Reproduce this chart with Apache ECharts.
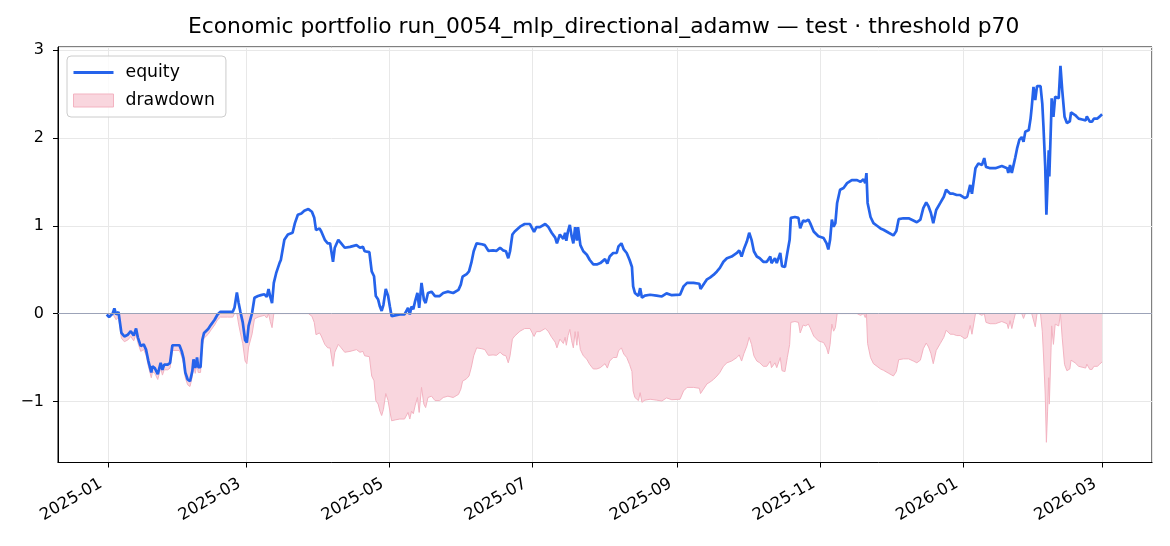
<!DOCTYPE html>
<html>
<head>
<meta charset="utf-8">
<script src="https://cdn.jsdelivr.net/npm/echarts@6/dist/echarts.min.js"></script>
<style>html,body{margin:0;padding:0;background:#fff}#c{width:1170px;height:546px}</style>
</head>
<body>
<div id="c"></div>
<script>
const chartTitle = 'Economic portfolio run_0054_mlp_directional_adamw \u2014 test \u00b7 threshold p70';
const seriesNames = ['equity', 'drawdown'];
const xRange = ['2024-12-10 17:00', '2026-03-22 07:00'];
const yRange = [-1.695, 3.035];

const dates = [
'2024-12-31 12:00','2025-01-01 12:00','2025-01-03 00:00','2025-01-03 18:00','2025-01-04 12:00','2025-01-05 12:00','2025-01-06 06:00','2025-01-06 18:00','2025-01-08 00:00','2025-01-09 12:00',
'2025-01-10 18:00','2025-01-12 00:00','2025-01-13 00:00','2025-01-13 18:00','2025-01-14 12:00','2025-01-15 00:00','2025-01-16 06:00','2025-01-17 06:00','2025-01-18 06:00','2025-01-19 12:00',
'2025-01-20 00:00','2025-01-21 00:00','2025-01-22 06:00','2025-01-23 12:00','2025-01-24 06:00','2025-01-25 00:00','2025-01-26 12:00','2025-01-27 12:00','2025-01-28 12:00','2025-01-31 12:00',
'2025-02-01 12:00','2025-02-02 06:00','2025-02-03 00:00','2025-02-04 00:00','2025-02-05 00:00','2025-02-06 00:00','2025-02-06 12:00','2025-02-07 06:00','2025-02-08 00:00','2025-02-08 12:00',
'2025-02-09 12:00','2025-02-10 06:00','2025-02-11 00:00','2025-02-12 18:00','2025-02-14 00:00','2025-02-15 12:00','2025-02-16 18:00','2025-02-18 00:00','2025-02-21 00:00','2025-02-23 06:00',
'2025-02-24 00:00','2025-02-24 12:00','2025-02-25 00:00','2025-02-25 18:00','2025-02-26 12:00','2025-02-27 12:00','2025-02-28 12:00','2025-03-01 06:00','2025-03-02 00:00','2025-03-02 18:00',
'2025-03-03 12:00','2025-03-04 12:00','2025-03-06 00:00','2025-03-07 06:00','2025-03-08 18:00','2025-03-09 18:00','2025-03-10 12:00','2025-03-11 06:00','2025-03-12 00:00','2025-03-12 18:00',
'2025-03-13 18:00','2025-03-14 12:00','2025-03-15 06:00','2025-03-15 18:00','2025-03-17 06:00','2025-03-18 18:00','2025-03-20 18:00','2025-03-21 18:00','2025-03-23 00:00','2025-03-24 12:00',
'2025-03-25 18:00','2025-03-27 12:00','2025-03-29 00:00','2025-03-30 00:00','2025-03-30 18:00','2025-04-01 06:00','2025-04-02 00:00','2025-04-03 12:00','2025-04-04 18:00','2025-04-05 18:00',
'2025-04-06 06:00','2025-04-07 00:00','2025-04-07 18:00','2025-04-09 06:00','2025-04-10 12:00','2025-04-12 00:00','2025-04-14 06:00','2025-04-17 00:00','2025-04-18 12:00','2025-04-19 18:00',
'2025-04-20 12:00','2025-04-22 12:00','2025-04-23 12:00','2025-04-24 12:00','2025-04-25 06:00','2025-04-26 06:00','2025-04-27 00:00','2025-04-27 18:00','2025-04-28 12:00','2025-04-29 12:00',
'2025-04-30 12:00','2025-05-01 06:00','2025-05-02 00:00','2025-05-03 12:00','2025-05-05 12:00','2025-05-07 12:00','2025-05-09 00:00','2025-05-09 18:00','2025-05-10 12:00','2025-05-11 06:00',
'2025-05-12 00:00','2025-05-13 00:00','2025-05-13 18:00','2025-05-14 18:00','2025-05-15 18:00','2025-05-16 12:00','2025-05-17 12:00','2025-05-19 00:00','2025-05-20 12:00','2025-05-22 12:00',
'2025-05-24 00:00','2025-05-26 00:00','2025-05-28 06:00','2025-05-30 12:00','2025-05-31 12:00','2025-06-01 06:00','2025-06-03 00:00','2025-06-04 00:00','2025-06-05 00:00','2025-06-06 00:00',
'2025-06-07 06:00','2025-06-09 12:00','2025-06-10 18:00','2025-06-12 06:00','2025-06-14 06:00','2025-06-15 18:00','2025-06-17 06:00','2025-06-18 12:00','2025-06-19 18:00','2025-06-20 18:00',
'2025-06-21 12:00','2025-06-22 12:00','2025-06-23 12:00','2025-06-25 18:00','2025-06-27 18:00','2025-06-30 00:00','2025-07-01 18:00','2025-07-02 18:00','2025-07-04 06:00','2025-07-06 12:00',
'2025-07-07 18:00','2025-07-09 06:00','2025-07-10 18:00','2025-07-11 12:00','2025-07-12 18:00','2025-07-14 06:00','2025-07-15 00:00','2025-07-15 12:00','2025-07-16 06:00','2025-07-17 00:00',
'2025-07-17 18:00','2025-07-18 12:00','2025-07-19 06:00','2025-07-20 00:00','2025-07-20 12:00','2025-07-21 12:00','2025-07-22 18:00','2025-07-24 06:00','2025-07-25 12:00','2025-07-27 00:00',
'2025-07-28 12:00','2025-07-30 00:00','2025-08-01 00:00','2025-08-02 00:00','2025-08-03 00:00','2025-08-04 12:00','2025-08-06 00:00','2025-08-06 18:00','2025-08-08 00:00','2025-08-09 00:00',
'2025-08-10 06:00','2025-08-11 12:00','2025-08-12 12:00','2025-08-13 00:00','2025-08-13 18:00','2025-08-15 06:00','2025-08-16 00:00','2025-08-16 18:00','2025-08-18 00:00','2025-08-20 06:00',
'2025-08-23 00:00','2025-08-25 06:00','2025-08-27 06:00','2025-08-29 12:00','2025-09-02 00:00','2025-09-03 12:00','2025-09-05 00:00','2025-09-07 18:00','2025-09-10 06:00','2025-09-10 18:00',
'2025-09-12 00:00','2025-09-13 12:00','2025-09-14 18:00','2025-09-16 06:00','2025-09-17 18:00','2025-09-19 00:00','2025-09-20 12:00','2025-09-22 00:00','2025-09-24 00:00','2025-09-26 06:00',
'2025-09-27 06:00','2025-09-28 06:00','2025-09-29 06:00','2025-09-30 12:00','2025-10-01 12:00','2025-10-02 12:00','2025-10-03 12:00','2025-10-04 18:00','2025-10-06 00:00','2025-10-07 12:00',
'2025-10-09 00:00','2025-10-10 12:00','2025-10-11 00:00','2025-10-12 12:00','2025-10-13 06:00','2025-10-14 18:00','2025-10-15 12:00','2025-10-16 18:00','2025-10-17 18:00','2025-10-18 18:00',
'2025-10-19 06:00','2025-10-21 00:00','2025-10-22 12:00','2025-10-23 06:00','2025-10-24 12:00','2025-10-25 12:00','2025-10-26 18:00','2025-10-27 12:00','2025-10-29 00:00','2025-10-31 00:00',
'2025-11-02 06:00','2025-11-03 12:00','2025-11-04 06:00','2025-11-05 00:00','2025-11-05 18:00','2025-11-06 12:00','2025-11-07 06:00','2025-11-08 00:00','2025-11-09 06:00','2025-11-10 18:00',
'2025-11-12 06:00','2025-11-14 06:00','2025-11-16 12:00','2025-11-18 00:00','2025-11-19 06:00','2025-11-20 00:00','2025-11-20 12:00','2025-11-21 00:00','2025-11-22 06:00','2025-11-23 12:00',
'2025-11-25 00:00','2025-11-26 12:00','2025-11-27 18:00','2025-11-30 00:00','2025-12-02 00:00','2025-12-03 06:00','2025-12-04 06:00','2025-12-06 06:00','2025-12-08 12:00','2025-12-10 12:00',
'2025-12-12 00:00','2025-12-13 12:00','2025-12-14 18:00','2025-12-16 00:00','2025-12-17 00:00','2025-12-18 00:00','2025-12-19 00:00','2025-12-20 06:00','2025-12-22 00:00','2025-12-23 12:00',
'2025-12-24 12:00','2025-12-26 06:00','2025-12-27 12:00','2025-12-29 00:00','2025-12-30 12:00','2026-01-01 12:00','2026-01-02 12:00','2026-01-03 18:00','2026-01-04 12:00','2026-01-06 00:00',
'2026-01-07 06:00','2026-01-08 18:00','2026-01-09 18:00','2026-01-10 12:00','2026-01-12 06:00','2026-01-14 12:00','2026-01-17 06:00','2026-01-19 12:00','2026-01-20 00:00','2026-01-20 18:00',
'2026-01-21 12:00','2026-01-22 06:00','2026-01-23 00:00','2026-01-23 18:00','2026-01-24 18:00','2026-01-25 18:00','2026-01-26 12:00','2026-01-27 06:00','2026-01-28 18:00','2026-01-29 12:00',
'2026-01-30 00:00','2026-01-30 18:00','2026-01-31 12:00','2026-02-01 06:00','2026-02-02 18:00','2026-02-03 12:00','2026-02-04 00:00','2026-02-04 18:00','2026-02-05 06:00','2026-02-05 18:00',
'2026-02-06 06:00','2026-02-06 12:00','2026-02-07 06:00','2026-02-07 12:00','2026-02-08 06:00','2026-02-09 00:00','2026-02-10 12:00','2026-02-11 06:00','2026-02-12 00:00','2026-02-13 00:00',
'2026-02-14 00:00','2026-02-15 06:00','2026-02-15 18:00','2026-02-17 12:00','2026-02-19 00:00','2026-02-20 12:00','2026-02-22 00:00','2026-02-22 12:00','2026-02-23 18:00','2026-02-24 18:00',
'2026-02-25 12:00','2026-02-27 00:00','2026-02-28 00:00','2026-03-01 00:00'
];

const equity = [
-0.01,-0.04,0.00,0.06,-0.01,0.02,0.02,-0.22,-0.26,-0.24,
-0.20,-0.25,-0.17,-0.27,-0.25,-0.37,-0.35,-0.41,-0.54,-0.67,
-0.60,-0.62,-0.69,-0.56,-0.64,-0.58,-0.58,-0.56,-0.36,-0.36,
-0.43,-0.51,-0.67,-0.75,-0.77,-0.655,-0.52,-0.62,-0.50,-0.61,
-0.61,-0.30,-0.22,-0.175,-0.125,-0.07,-0.01,0.02,0.02,0.02,
0.07,0.08,0.24,0.12,0.02,-0.10,-0.30,-0.33,-0.14,-0.13,
0.01,0.18,0.20,0.21,0.22,0.19,0.28,0.19,0.12,0.35,
0.46,0.48,0.58,0.61,0.84,0.90,0.92,1.03,1.125,1.14,
1.17,1.19,1.16,1.09,0.95,0.97,0.935,0.84,0.80,0.80,
0.82,0.59,0.75,0.84,0.80,0.75,0.76,0.78,0.75,0.76,
0.71,0.70,0.48,0.425,0.20,0.16,0.08,0.03,0.10,0.28,
0.20,0.08,-0.03,-0.02,-0.01,-0.01,0.065,-0.01,0.08,0.05,
0.14,0.235,0.065,0.35,0.16,0.12,0.235,0.25,0.20,0.20,
0.235,0.25,0.235,0.27,0.33,0.42,0.45,0.48,0.58,0.71,
0.80,0.79,0.78,0.715,0.72,0.715,0.75,0.72,0.71,0.63,
0.71,0.90,0.935,0.99,1.02,1.02,0.93,0.985,0.985,1.02,
0.99,0.92,0.865,0.80,0.90,0.85,0.92,0.83,0.94,1.01,
0.885,0.80,0.985,0.83,0.985,0.78,0.71,0.67,0.61,0.56,
0.56,0.575,0.62,0.57,0.65,0.69,0.69,0.765,0.80,0.73,
0.69,0.61,0.53,0.31,0.235,0.20,0.29,0.18,0.205,0.215,
0.205,0.195,0.23,0.21,0.215,0.31,0.35,0.35,0.34,0.28,
0.33,0.39,0.41,0.44,0.48,0.52,0.59,0.63,0.65,0.69,
0.72,0.65,0.735,0.82,0.92,0.84,0.71,0.65,0.63,0.59,
0.59,0.65,0.575,0.63,0.575,0.69,0.54,0.53,0.69,0.84,
1.09,1.10,1.09,0.97,1.06,1.05,1.07,1.03,0.935,0.88,
0.86,0.80,0.73,0.84,1.07,0.99,1.03,1.26,1.41,1.43,
1.485,1.52,1.52,1.50,1.53,1.485,1.60,1.26,1.10,1.03,
1.00,0.97,0.955,0.92,0.89,0.94,1.075,1.085,1.085,1.06,
1.04,1.07,1.20,1.265,1.22,1.145,1.03,1.18,1.26,1.33,
1.41,1.365,1.365,1.35,1.35,1.315,1.33,1.465,1.365,1.655,
1.71,1.69,1.77,1.67,1.655,1.655,1.68,1.655,1.60,1.69,
1.60,1.69,1.78,1.88,1.98,2.01,1.955,2.07,2.09,2.22,
2.35,2.58,2.43,2.59,2.59,2.39,2.13,1.675,1.125,1.48,
1.86,1.56,2.20,2.45,2.24,2.47,2.45,2.82,2.545,2.24,
2.17,2.19,2.29,2.26,2.22,2.21,2.20,2.245,2.185,2.185,
2.22,2.22,2.245,2.27
];

const drawdown = [
0,-0.03,0,0,-0.07,-0.04,-0.04,-0.28,-0.32,-0.30,
-0.26,-0.31,-0.23,-0.33,-0.31,-0.43,-0.41,-0.47,-0.60,-0.73,
-0.66,-0.68,-0.75,-0.62,-0.70,-0.64,-0.64,-0.62,-0.42,-0.42,
-0.49,-0.57,-0.73,-0.81,-0.83,-0.715,-0.58,-0.68,-0.56,-0.67,
-0.67,-0.36,-0.28,-0.235,-0.185,-0.13,-0.07,-0.04,-0.04,-0.04,
0,0,0,-0.12,-0.22,-0.34,-0.54,-0.57,-0.38,-0.37,
-0.23,-0.06,-0.04,-0.03,-0.02,-0.05,0,-0.09,-0.16,0,
0,0,0,0,0,0,0,0,0,0,
0,0,-0.03,-0.10,-0.24,-0.22,-0.255,-0.35,-0.39,-0.39,
-0.37,-0.60,-0.44,-0.35,-0.39,-0.44,-0.43,-0.41,-0.44,-0.43,
-0.48,-0.49,-0.71,-0.765,-0.99,-1.03,-1.11,-1.16,-1.09,-0.91,
-0.99,-1.11,-1.22,-1.21,-1.20,-1.20,-1.125,-1.20,-1.11,-1.14,
-1.05,-0.955,-1.125,-0.84,-1.03,-1.07,-0.955,-0.94,-0.99,-0.99,
-0.955,-0.94,-0.955,-0.92,-0.86,-0.77,-0.74,-0.71,-0.61,-0.48,
-0.39,-0.40,-0.41,-0.475,-0.47,-0.475,-0.44,-0.47,-0.48,-0.56,
-0.48,-0.29,-0.255,-0.20,-0.17,-0.17,-0.26,-0.205,-0.205,-0.17,
-0.20,-0.27,-0.325,-0.39,-0.29,-0.34,-0.27,-0.36,-0.25,-0.18,
-0.305,-0.39,-0.205,-0.36,-0.205,-0.41,-0.48,-0.52,-0.58,-0.63,
-0.63,-0.615,-0.57,-0.62,-0.54,-0.50,-0.50,-0.425,-0.39,-0.46,
-0.50,-0.58,-0.66,-0.88,-0.955,-0.99,-0.90,-1.01,-0.985,-0.975,
-0.985,-0.995,-0.96,-0.98,-0.975,-0.88,-0.84,-0.84,-0.85,-0.91,
-0.86,-0.80,-0.78,-0.75,-0.71,-0.67,-0.60,-0.56,-0.54,-0.50,
-0.47,-0.54,-0.455,-0.37,-0.27,-0.35,-0.48,-0.54,-0.56,-0.60,
-0.60,-0.54,-0.615,-0.56,-0.615,-0.50,-0.65,-0.66,-0.50,-0.35,
-0.10,-0.09,-0.10,-0.22,-0.13,-0.14,-0.12,-0.16,-0.255,-0.31,
-0.33,-0.39,-0.46,-0.35,-0.12,-0.20,-0.16,0,0,0,
0,0,0,-0.02,0,-0.045,0,-0.34,-0.50,-0.57,
-0.60,-0.63,-0.645,-0.68,-0.71,-0.66,-0.525,-0.515,-0.515,-0.54,
-0.56,-0.53,-0.40,-0.335,-0.38,-0.455,-0.57,-0.42,-0.34,-0.27,
-0.19,-0.235,-0.235,-0.25,-0.25,-0.285,-0.27,-0.135,-0.235,0,
0,-0.02,0,-0.10,-0.115,-0.115,-0.09,-0.115,-0.17,-0.08,
-0.17,-0.08,0,0,0,0,-0.055,0,0,0,
0,0,-0.15,0,0,-0.20,-0.46,-0.915,-1.465,-1.11,
-0.73,-1.03,-0.39,-0.14,-0.35,-0.12,-0.14,0,-0.275,-0.58,
-0.65,-0.63,-0.53,-0.56,-0.60,-0.61,-0.62,-0.575,-0.635,-0.635,
-0.60,-0.60,-0.575,-0.55
];

const equityData = dates.map((d, i) => [d, equity[i]]);
const drawdownData = dates.map((d, i) => [d, drawdown[i]]);

function pad2(n) { return n < 10 ? '0' + n : '' + n; }
function fmtMonth(v) { const d = new Date(v); return d.getFullYear() + '-' + pad2(d.getMonth() + 1); }
function fmtY(v) { return v < 0 ? '\u2212' + (-v) : String(v); }

const FONT = 'DejaVu Sans';
const BLUE = '#2563eb';
const PINK_FILL = '#f9d6de';
const PINK_EDGE = '#f3b3c1';
const chart = echarts.init(document.getElementById('c'), null, { renderer: 'canvas' });
chart.setOption({
  animation: false,
  backgroundColor: '#ffffff',
  title: {
    text: chartTitle,
    left: 188, top: 16, padding: 0,
    textStyle: { fontFamily: FONT, fontSize: 21.8, fontWeight: 'normal', color: '#000' }
  },
  legend: {
    orient: 'vertical', left: 67, top: 56,
    itemWidth: 40, itemHeight: 13, itemGap: 11,
    padding: [8, 11, 8, 6],
    backgroundColor: 'rgba(255,255,255,0.8)',
    borderColor: '#cccccc', borderWidth: 1, borderRadius: 4,
    textStyle: { fontFamily: FONT, fontSize: 17.3, color: '#000', padding: [0, 0, 0, 7] },
    data: [
      { name: seriesNames[0], icon: 'path://M0,0 M0,5 L40,5 L40,8 L0,8 Z M40,13', itemStyle: { color: BLUE } },
      { name: seriesNames[1], icon: 'rect', itemStyle: { color: PINK_FILL, borderColor: PINK_EDGE, borderWidth: 1 } }
    ]
  },
  grid: { left: 58, right: 18, top: 47, bottom: 83.5, show: true, borderColor: '#000', borderWidth: 1, containLabel: false },
  xAxis: {
    type: 'time',
    min: xRange[0], max: xRange[1],
    splitNumber: 7,
    axisLine: { show: true, onZero: false, lineStyle: { color: '#000', width: 1 } },
    axisTick: { show: true, length: 5, lineStyle: { color: '#000', width: 1 } },
    axisLabel: { rotate: 30, margin: 16, padding: [0, 8, 0, 0], fontFamily: FONT, fontSize: 16.4, color: '#000', formatter: fmtMonth, hideOverlap: false, showMinLabel: false, showMaxLabel: false },
    splitLine: { show: true, lineStyle: { color: '#e8e8e8', width: 1 } }
  },
  yAxis: {
    type: 'value',
    min: yRange[0], max: yRange[1],
    axisLine: { show: true, onZero: false, lineStyle: { color: '#000', width: 1 } },
    axisTick: { show: true, length: 5, lineStyle: { color: '#000', width: 1 } },
    axisLabel: { margin: 14, fontFamily: FONT, fontSize: 16, color: '#000', formatter: fmtY, showMinLabel: false, showMaxLabel: false },
    splitLine: { show: true, lineStyle: { color: '#e8e8e8', width: 1 } }
  },
  series: [
    {
      name: seriesNames[1], type: 'line', data: drawdownData,
      symbol: 'none', z: 1,
      lineStyle: { color: PINK_EDGE, width: 1 },
      itemStyle: { color: PINK_FILL },
      areaStyle: { color: PINK_FILL, opacity: 1 },
      markLine: {
        silent: true, symbol: 'none', animation: false,
        label: { show: false },
        lineStyle: { color: '#9ca3b8', width: 1, type: 'solid' },
        data: [{ yAxis: 0 }]
      }
    },
    {
      name: seriesNames[0], type: 'line', data: equityData,
      symbol: 'none', z: 3,
      lineStyle: { color: BLUE, width: 2.7 },
      itemStyle: { color: BLUE }
    }
  ]
});
</script>
</body>
</html>
